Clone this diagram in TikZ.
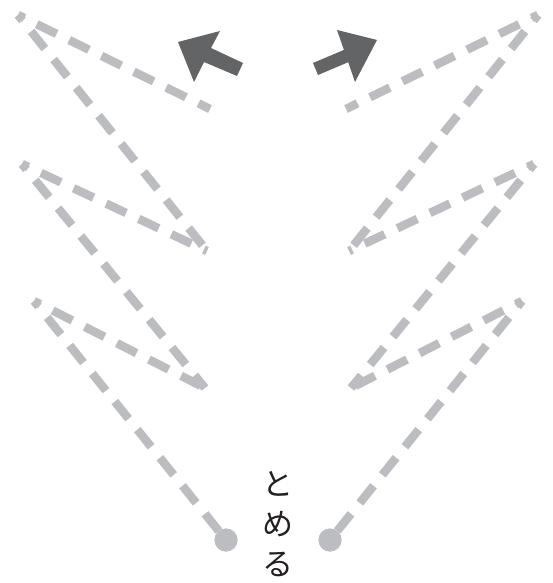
\documentclass[tikz,border=0pt]{standalone}
\usepackage{fontspec}
\newfontfamily\jpfont{Noto Sans CJK JP}
\definecolor{lacecol}{HTML}{BCBDC0}
\definecolor{arrcol}{HTML}{636466}
\definecolor{inkcol}{HTML}{231F20}
\begin{document}
\begin{tikzpicture}[x=1pt,y=-1pt,
  lacing/.style={draw=lacecol, line width=8.5pt, dash pattern=on 22pt off 14pt, dash phase=15pt},
  eyelet/.style={circle, fill=lacecol, minimum size=23pt, inner sep=0pt},
  bigarrow/.style={fill=arrcol},
  label/.style={font=\jpfont\fontsize{31}{40}\selectfont, text=inkcol, align=center, inner sep=0pt}]
\useasboundingbox (0,0) rectangle (552,583);
% left eyelet points
\coordinate (L1) at (18,15);
\coordinate (L1a) at (210,109);
\coordinate (L2) at (22,164);
\coordinate (L2a) at (207,251);
\coordinate (L3) at (34,301);
\coordinate (L3a) at (205,388);
% right eyelet points
\coordinate (R1) at (538,15);
\coordinate (R1a) at (346,109);
\coordinate (R2) at (534,164);
\coordinate (R2a) at (349,251);
\coordinate (R3) at (522,301);
\coordinate (R3a) at (351,388);
% dots
\node[eyelet] (D1) at (226,540) {};
\node[eyelet] (D2) at (330,540) {};
% left lacing
\draw[lacing] (L1) -- (L1a);
\draw[lacing] (L1) -- (L2a);
\draw[lacing] (L2) -- (L2a);
\draw[lacing] (L2) -- (L3a);
\draw[lacing] (L3) -- (L3a);
\draw[lacing] (L3) -- (D1.center);
% right lacing
\draw[lacing] (R1) -- (R1a);
\draw[lacing] (R1) -- (R2a);
\draw[lacing] (R2) -- (R2a);
\draw[lacing] (R2) -- (R3a);
\draw[lacing] (R3) -- (R3a);
\draw[lacing] (R3) -- (D2.center);
\node[eyelet] at (D1) {};
\node[eyelet] at (D2) {};
% arrows
\fill[bigarrow] (178,42) -- (220,31) -- (211,48) -- (243,63) -- (237,76) -- (204,62) -- (194,82) -- cycle;
\fill[bigarrow] (377,40) -- (355,82) -- (348.2,62.2) -- (318,75) -- (313,63) -- (343.9,49.9) -- (337,30) -- cycle;
% text
\node[label] (txt) at (278,524) {と\\め\\る};
\end{tikzpicture}
\end{document}
